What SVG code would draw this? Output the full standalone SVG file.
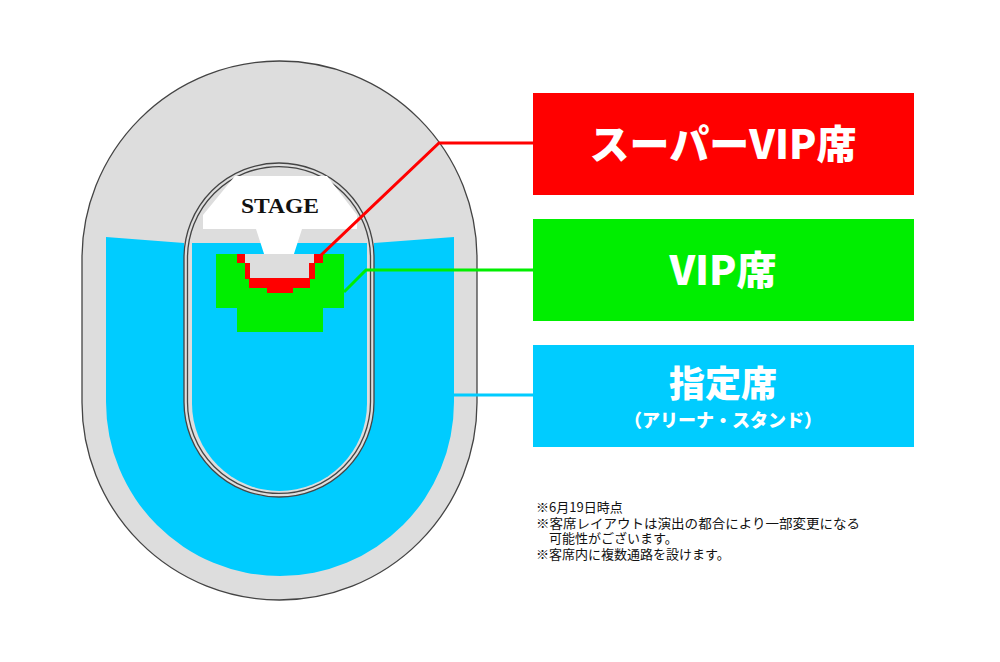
<svg xmlns="http://www.w3.org/2000/svg" width="1000" height="662" viewBox="0 0 1000 662">
<style>
.g{fill:#dddddd}
.ln{fill:none;stroke:#444;stroke-width:1.3}
.bl{fill:#00ccff}
.gr{fill:#00ee00}
.rd{fill:#ff0000}
.bt{fill:#fff;font-family:"Noto Sans CJK JP",sans-serif;font-weight:900;text-anchor:middle}
.nt{fill:#111;font-family:"Noto Sans CJK JP",sans-serif;font-size:13px}
.c{fill:none;stroke-width:3}
</style>
<rect width="1000" height="662" fill="#fff"/>
<g id="venue">
<path class="g" d="M82,258.5 A197.5,197.5 0 0 1 477,258.5 L477,402.5 A197.5,197.5 0 0 1 82,402.5 Z"/>
<path class="ln" d="M82,258.5 A197.5,197.5 0 0 1 477,258.5 L477,402.5 A197.5,197.5 0 0 1 82,402.5 Z"/>
<path class="bl" d="M106,237 L184,243 L184,402 A95,95 0 0 0 374,402 L374,243 L454,237 L454,402 A174,174 0 0 1 106,402 Z"/>
<path class="g" d="M184,258 A95,95 0 0 1 374,258 L374,402 A95,95 0 0 1 184,402 Z"/>
<path class="ln" d="M184,258 A95,95 0 0 1 374,258 L374,402 A95,95 0 0 1 184,402 Z"/>
<path class="ln" d="M187.5,258 A91.5,91.5 0 0 1 370.5,258 L370.5,402 A91.5,91.5 0 0 1 187.5,402 Z"/>
<path class="bl" d="M192,243 L367,243 L367,403.5 A87.5,87.5 0 0 1 192,403.5 Z"/>
</g>
<g id="stage">
<polygon fill="#fff" points="235,176 327,176 357,215 357,229 302,229 292,260 266,260 256,229 203,229 203,215"/>
<text x="280" y="213" font-family="Liberation Serif,serif" font-size="21" font-weight="bold" text-anchor="middle" fill="#111" textLength="78" lengthAdjust="spacingAndGlyphs">STAGE</text>
</g>
<g id="vip-area">
<rect class="gr" x="216" y="254" width="128" height="54"/>
<rect class="gr" x="237" y="307" width="86" height="25"/>
<polygon class="g" points="245,254 314,254 314,263 309,263 309,278 250,278 250,263 245,263"/>
</g>
<g id="super-vip-area">
<rect class="rd" x="237" y="254" width="8" height="9"/>
<rect class="rd" x="245" y="263" width="5" height="16"/>
<rect class="rd" x="249" y="278" width="61" height="10"/>
<rect class="rd" x="267" y="287" width="26" height="6"/>
<rect class="rd" x="309" y="263" width="6" height="16"/>
<rect class="rd" x="314" y="254" width="9" height="9"/>
</g>
<g id="connectors">
<polyline class="c" stroke="#ff0000" points="318,258 439,143 533,143"/>
<polyline class="c" stroke="#00ee00" points="344,292 366,270 533,270"/>
<polyline class="c" stroke="#00ccff" points="454,395 533,395"/>
</g>
<g id="label-supervip">
<rect class="rd" x="533" y="93" width="381" height="102"/>
<text class="bt" x="723" y="159" font-size="40">スーパーVIP席</text>
</g>
<g id="label-vip">
<rect class="gr" x="533" y="219" width="381" height="102"/>
<text class="bt" x="723" y="285" font-size="40">VIP席</text>
</g>
<g id="label-reserved">
<rect class="bl" x="533" y="345" width="381" height="102"/>
<text class="bt" x="723" y="397" font-size="36">指定席</text>
<text class="bt" x="723" y="427" font-size="18">（アリーナ・スタンド）</text>
</g>
<g id="notes">
<text class="nt" x="536" y="512">※6月19日時点</text>
<text class="nt" x="536" y="528" textLength="324" lengthAdjust="spacingAndGlyphs">※客席レイアウトは演出の都合により一部変更になる</text>
<text class="nt" x="549" y="543">可能性がございます。</text>
<text class="nt" x="536" y="559">※客席内に複数通路を設けます。</text>
</g>
</svg>
